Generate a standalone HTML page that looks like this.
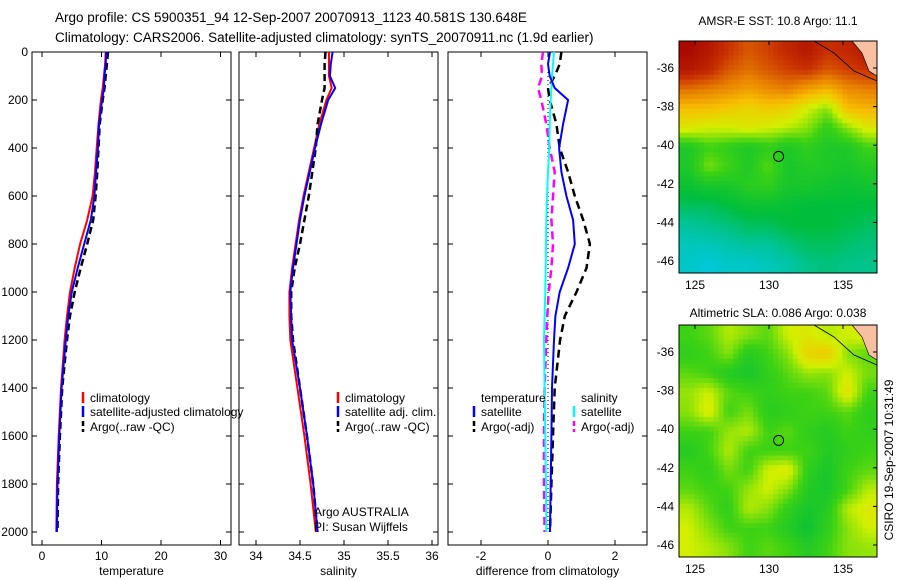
<!DOCTYPE html>
<html><head><meta charset="utf-8"><style>
body{margin:0;background:#fff;}
svg{display:block;font-family:"Liberation Sans",sans-serif;}
</style></head><body>
<svg id="fig" width="900" height="580" xmlns="http://www.w3.org/2000/svg">
<text x="55" y="22" font-size="13.5">Argo profile: CS 5900351_94 12-Sep-2007 20070913_1123 40.581S 130.648E</text>
<text x="55" y="42" font-size="13.5">Climatology: CARS2006. Satellite-adjusted climatology: synTS_20070911.nc (1.9d earlier)</text>
<text x="778" y="25" font-size="12" text-anchor="middle">AMSR-E SST: 10.8 Argo: 11.1</text>
<text x="778" y="317" font-size="12" text-anchor="middle">Altimetric SLA: 0.086 Argo: 0.038</text>
<text transform="translate(893,460) rotate(-90)" font-size="12" text-anchor="middle">CSIRO 19-Sep-2007 10:31:49</text>
</svg>
<script>
// ---- data ----
const depths = [0,50,100,150,200,300,400,500,600,700,800,900,1000,1100,1200,1400,1600,1800,2000];
const tempClim = [10.7,10.6,10.4,10.2,9.9,9.5,9.2,8.9,8.5,7.6,6.4,5.5,4.7,4.2,3.8,3.2,2.8,2.5,2.4];
const tempSat  = [10.8,10.7,10.5,10.4,10.1,9.6,9.4,9.1,8.8,8.2,7.1,6.0,5.0,4.4,4.0,3.3,2.9,2.6,2.5];
const tempArgo = [11.1,10.9,10.7,10.5,10.2,9.7,9.5,9.3,9.0,8.6,7.6,6.5,5.5,4.7,4.2,3.4,3.0,2.7,2.6];
const salClim = [34.83,34.83,34.83,34.86,34.8,34.72,34.66,34.6,34.54,34.49,34.45,34.41,34.38,34.38,34.39,34.47,34.55,34.62,34.68];
const salSat  = [34.87,34.85,34.84,34.9,34.82,34.74,34.67,34.61,34.55,34.5,34.46,34.42,34.39,34.4,34.41,34.5,34.58,34.65,34.7];
const salArgo = [34.79,34.78,34.78,34.78,34.75,34.7,34.68,34.64,34.6,34.55,34.5,34.44,34.4,34.4,34.42,34.5,34.58,34.65,34.7];
const dTempSat  = [0.06,0.0,0.05,0.2,0.6,0.45,0.33,0.4,0.55,0.75,0.8,0.6,0.35,0.22,0.18,0.12,0.1,0.08,0.06];
const dTempArgo = [0.4,0.35,0.2,0.0,0.05,0.25,0.35,0.6,0.8,1.05,1.25,1.15,0.85,0.5,0.36,0.2,0.15,0.1,0.06];
const dSalSat   = [0.18,0.15,0.12,0.1,0.08,0.05,0.04,0.0,-0.03,-0.05,-0.06,-0.07,-0.08,-0.1,-0.12,-0.1,-0.08,-0.06,-0.05];
const dSalArgo  = [-0.15,-0.2,-0.18,-0.3,-0.2,-0.05,0.05,0.2,0.15,0.1,0.15,0.1,0.02,-0.02,-0.05,-0.1,-0.12,-0.12,-0.1];
const depthTicks = [0,200,400,600,800,1000,1200,1400,1600,1800,2000];
const tempTicks = [0,10,20,30];
const salTicks = [34,34.5,35,35.5,36];
const diffTicks = [-2,0,2];
const lonTicks = [125,130,135];
const latTicks = [-36,-38,-40,-42,-44,-46];
const sstGrid = [
[.98,.95,.9,.85,.88,.92,.95,.9,.92,.95],
[.95,.92,.85,.82,.85,.88,.9,.85,.88,.9],
[.82,.8,.78,.75,.78,.8,.75,.72,.78,.8],
[.7,.7,.68,.66,.68,.66,.6,.55,.7,.72],
[.62,.6,.6,.62,.6,.58,.55,.48,.55,.62],
[.45,.5,.48,.45,.48,.45,.48,.45,.45,.5],
[.45,.54,.5,.45,.52,.44,.46,.45,.44,.46],
[.42,.44,.44,.47,.48,.44,.44,.43,.42,.43],
[.38,.38,.4,.42,.42,.41,.4,.4,.4,.4],
[.34,.35,.36,.38,.38,.4,.4,.4,.39,.38],
[.32,.32,.33,.34,.34,.36,.38,.38,.37,.36],
[.31,.3,.31,.31,.32,.33,.35,.36,.35,.35]];
const slaGrid = [
[.5,.52,.58,.55,.52,.6,.62,.58,.6,.62],
[.48,.5,.55,.46,.5,.55,.66,.68,.55,.52],
[.52,.5,.46,.44,.48,.52,.56,.55,.6,.54],
[.56,.6,.52,.5,.48,.5,.5,.52,.64,.5],
[.55,.62,.5,.54,.47,.48,.5,.5,.52,.48],
[.5,.5,.56,.58,.5,.52,.48,.46,.5,.48],
[.46,.5,.58,.5,.5,.5,.5,.46,.48,.5],
[.5,.48,.54,.5,.6,.62,.48,.44,.5,.52],
[.52,.5,.5,.56,.6,.55,.46,.44,.5,.58],
[.58,.52,.48,.58,.55,.48,.44,.46,.58,.62],
[.6,.55,.5,.5,.5,.46,.42,.48,.55,.6],
[.6,.58,.55,.5,.52,.5,.46,.5,.55,.56]];
const argoLon = [130.648];
const argoLat = [-40.581];

// ---- helpers ----
const NS="http://www.w3.org/2000/svg";
const svg=document.getElementById('fig');
function mk(tag,attrs,parent){const e=document.createElementNS(NS,tag);for(const k in attrs)e.setAttribute(k,attrs[k]);(parent||svg).appendChild(e);return e;}
const yD=d=>52+d*0.24;
function panel(name,x0,x1,xs,ticks,fmt,label){
  const g=mk('g',{});
  
  
  const b=mk('rect',{x:x0,y:52,width:x1-x0,height:493,fill:'none',stroke:'#000','stroke-width':1},g);
  
  
  depthTicks.forEach(d=>{
    const y=yD(d);
    mk('line',{x1:x0,x2:x0+5,y1:y,y2:y,stroke:'#000'},g);
    mk('line',{x1:x1-5,x2:x1,y1:y,y2:y,stroke:'#000'},g);
    if(name==='temperature-panel'){const t=mk('text',{x:x0-4,y:y+4,'font-size':12,'text-anchor':'end'},g);t.textContent=d;
      
      }
  });
  ticks.forEach(v=>{
    const x=xs(v);
    mk('line',{x1:x,x2:x,y1:545,y2:540,stroke:'#000'},g);
    mk('line',{x1:x,x2:x,y1:52,y2:57,stroke:'#000'},g);
    const t=mk('text',{x:x,y:560,'font-size':12,'text-anchor':'middle'},g);t.textContent=fmt(v);
    
    
  });
  const l=mk('text',{x:(x0+x1)/2,y:575,'font-size':12,'text-anchor':'middle'},g);l.textContent=label;
  
  
  return g;
}
function line(g,xs,vals,color,w,dash,name){
  const p=vals.map((v,i)=>xs(v).toFixed(1)+','+yD(depths[i]).toFixed(1)).join(' ');
  const e=mk('polyline',{points:p,fill:'none',stroke:color,'stroke-width':w,'stroke-dasharray':dash||'none'},g);
  
  
}
function legend(g,x,y,color,dash,txt){
  const e=mk('line',{x1:x,x2:x,y1:y-10,y2:y+1,stroke:color,'stroke-width':2.5,'stroke-dasharray':dash||'none'},g);
  
  
  const t=mk('text',{x:x+7,y:y,'font-size':12},g);t.textContent=txt;
  
  
}
// temperature panel
const xT=v=>42+5.95*v;
const g1=panel('temperature-panel',32,231,xT,tempTicks,v=>v,'temperature');
line(g1,xT,tempClim,'#f00',2,null,'temp-climatology-line');
line(g1,xT,tempArgo,'#000',2.5,'7,4','temp-argo-line');
line(g1,xT,tempSat,'#00f',2,null,'temp-satellite-line');
legend(g1,83,402,'#f00',null,'climatology');
legend(g1,83,416,'#00f',null,'satellite-adjusted climatology');
legend(g1,83,431,'#000','5,3','Argo(..raw -QC)');
// salinity panel
const xS=v=>256+88*(v-34);
const g2=panel('salinity-panel',239,438,xS,salTicks,v=>v,'salinity');
line(g2,xS,salClim,'#f00',2,null,'sal-climatology-line');
line(g2,xS,salArgo,'#000',2.5,'7,4','sal-argo-line');
line(g2,xS,salSat,'#00f',2,null,'sal-satellite-line');
legend(g2,338,402,'#f00',null,'climatology');
legend(g2,338,416,'#00f',null,'satellite adj. clim.');
legend(g2,338,431,'#000','5,3','Argo(..raw -QC)');
[['Argo AUSTRALIA',516],['PI: Susan Wijffels',531]].forEach(([s,y])=>{const t=mk('text',{x:314,y:y,'font-size':12},g2);t.textContent=s;
  
  });
// difference panel
const xDf=v=>548+33.5*v;
const g3=panel('difference-panel',448,647,xDf,diffTicks,v=>v,'difference from climatology');
const z=mk('line',{x1:xDf(0),x2:xDf(0),y1:yD(0),y2:yD(2000),stroke:'#000','stroke-dasharray':'1,3'},g3);


line(g3,xDf,dTempArgo,'#000',2.5,'8,5','dtemp-argo-line');
line(g3,xDf,dSalArgo,'#f0f',2.5,'8,5','dsal-argo-line');
line(g3,xDf,dSalSat,'#0ff',2,null,'dsal-satellite-line');
line(g3,xDf,dTempSat,'#00f',2,null,'dtemp-satellite-line');
[['temperature',481],['salinity',581]].forEach(([s,x])=>{const t=mk('text',{x:x,y:402,'font-size':12},g3);t.textContent=s;
  
  });
legend(g3,474,416,'#00f',null,'satellite');
legend(g3,474,431,'#000','5,3','Argo(-adj)');
legend(g3,574,416,'#0ff',null,'satellite');
legend(g3,574,431,'#f0f','5,3','Argo(-adj)');
// maps
const stops=[[.3,[0,200,216]],[.4,[0,190,60]],[.5,[60,210,20]],[.6,[210,240,0]],[.7,[248,192,0]],[.8,[232,128,0]],[.9,[200,48,0]],[1,[160,0,0]]];
function col(v){v=Math.max(.3,Math.min(1,v));for(let i=1;i<stops.length;i++){if(v<=stops[i][0]){const a=stops[i-1],b=stops[i],t=(v-a[0])/(b[0]-a[0]);return 'rgb('+a[1].map((c,k)=>Math.round(c+(b[1][k]-c)*t)).join(',')+')';}}return 'rgb(160,0,0)';}
function sample(grid,fy,fx){
  const R=grid.length,C=grid[0].length;
  fy=Math.max(0,Math.min(R-1,fy));fx=Math.max(0,Math.min(C-1,fx));
  const i=Math.floor(fy),j=Math.floor(fx),i2=Math.min(R-1,i+1),j2=Math.min(C-1,j+1),ty=fy-i,tx=fx-j;
  return grid[i][j]*(1-ty)*(1-tx)+grid[i][j2]*(1-ty)*tx+grid[i2][j]*ty*(1-tx)+grid[i2][j2]*ty*tx;
}
function map(name,y0,grid){
  const x0=679,w=198,h=232;
  const lonX=l=>695+(l-125)*14.8, latY=la=>y0+27+(-36-la)*19.3;
  const g=mk('g',{});
  
  
  const rows=grid.length,cols=grid[0].length,S=4;
  for(let i=0;i<rows*S;i++)for(let j=0;j<cols*S;j++){
    const v=sample(grid,(i+0.5)/S-0.5,(j+0.5)/S-0.5);
    const c=mk('rect',{x:x0+j*w/(cols*S),y:y0+i*h/(rows*S),width:w/(cols*S)+0.5,height:h/(rows*S)+0.5,fill:col(v)},g);
    
    
  }
  const land=mk('path',{d:`M${x0+w-25},${y0} L${x0+w},${y0} L${x0+w},${y0+35} L${x0+w-8},${y0+30} L${x0+w-15},${y0+12} Z`,fill:'#f8c0a0',stroke:'#000','stroke-width':0.6},g);
  
  
  const coast=mk('path',{d:`M${x0+135},${y0} L${x0+155},${y0+12} L${x0+175},${y0+30} L${x0+198},${y0+40}`,fill:'none',stroke:'#000','stroke-width':0.8},g);
  
  
  const m=mk('circle',{cx:lonX(argoLon[0]),cy:latY(argoLat[0]),r:5,fill:'none',stroke:'#000'},g);
  
  
  const f=mk('rect',{x:x0,y:y0,width:w,height:h,fill:'none',stroke:'#000'},g);
  
  
  lonTicks.forEach(l=>{const x=lonX(l);mk('line',{x1:x,x2:x,y1:y0,y2:y0+4,stroke:'#000'},g);
    const t=mk('text',{x:x,y:y0+h+16,'font-size':12,'text-anchor':'middle'},g);t.textContent=l;
    
    });
  latTicks.forEach(la=>{const y=latY(la);mk('line',{x1:x0+w-4,x2:x0+w,y1:y,y2:y,stroke:'#000'},g);
    const t=mk('text',{x:x0-5,y:y+4,'font-size':12,'text-anchor':'end'},g);t.textContent=la;
    
    });
}
map('sst-map',41,sstGrid);
map('sla-map',325,slaGrid);
</script>
</body></html>
